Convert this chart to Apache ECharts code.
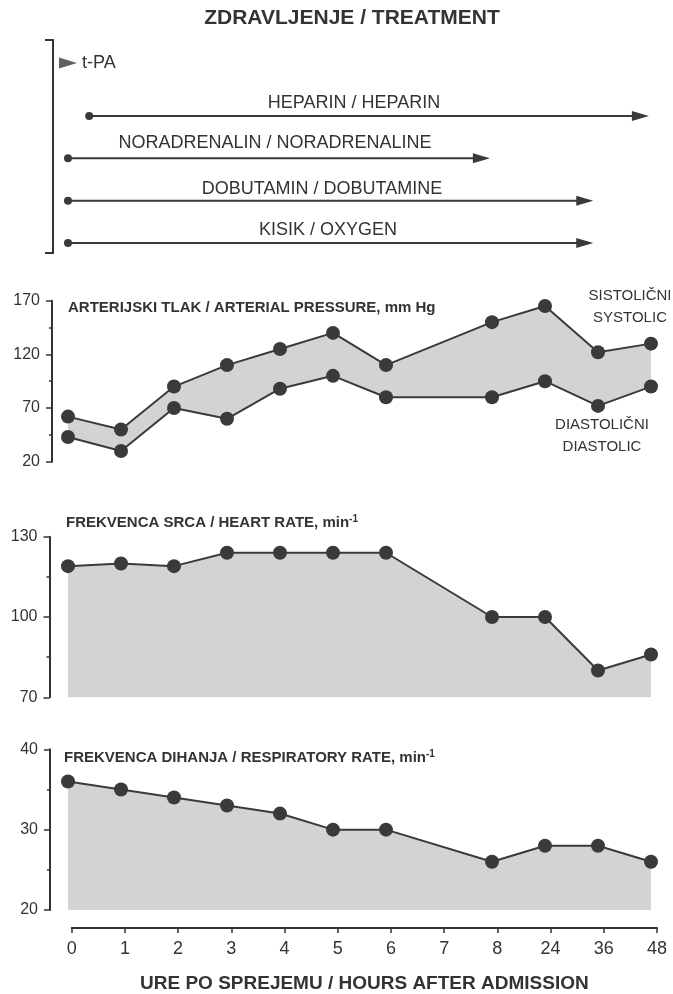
<!DOCTYPE html>
<html>
<head>
<meta charset="utf-8">
<script src="https://cdn.jsdelivr.net/npm/echarts@6/dist/echarts.min.js"></script>
<style>
  html, body { margin: 0; padding: 0; background: #fff; }
  #chart { width: 673px; height: 994px; }
</style>
</head>
<body>
<div id="chart"></div>
<script>
// ---------- DATA ----------
const hours = ['0', '1', '2', '3', '4', '5', '6', '7', '8', '24', '36', '48'];
const systolic  = [62, 50, 90, 110, 125, 140, 110, null, 150, 165, 122, 130];
const diastolic = [43, 30, 70, 60, 88, 100, 80, null, 80, 95, 72, 90];
const heartRate = [119, 120, 119, 124, 124, 124, 124, null, 100, 100, 80, 86];
const respRate  = [36, 35, 34, 33, 32, 30, 30, null, 26, 28, 28, 26];

const bpTicks = [20, 70, 120, 170];
const hrTicks = [70, 100, 130];
const rrTicks = [20, 30, 40];

const bolusDrugs = ['t-PA'];
const bolusTime = [0];               // category index
const infusions = ['HEPARIN / HEPARIN', 'NORADRENALIN / NORADRENALINE', 'DOBUTAMIN / DOBUTAMINE', 'KISIK / OXYGEN'];
const infusionStart = [0.4, 0, 0, 0];       // category index units
const infusionEnd   = [10.8, 7.8, 9.75, 9.75];

// ---------- STYLE ----------
const FONT = "'Liberation Sans', Arial, Helvetica, sans-serif";
const INK = '#333333';
const LINE = '#3a3a3a';
const FILL = '#d3d3d3';
const PL = 68, PR = 22;

const mids = arr => arr.slice(0, -1).map((v, i) => (v + arr[i + 1]) / 2);

function mainY(grid, min, max, ticks, offset) {
  return {
    type: 'value', gridIndex: grid, min: min, max: max, offset: offset, position: 'left',
    axisLine: { show: true, lineStyle: { color: INK, width: 2 } },
    axisTick: { show: true, length: 6, customValues: ticks, lineStyle: { color: INK, width: 1.5 } },
    axisLabel: { show: true, customValues: ticks, fontSize: 16, color: INK, margin: 12, fontFamily: FONT },
    splitLine: { show: false }
  };
}
function minorY(grid, min, max, ticks, offset) {
  return {
    type: 'value', gridIndex: grid, min: min, max: max, offset: offset, position: 'left',
    axisLine: { show: false },
    axisTick: { show: true, length: 3, customValues: mids(ticks), lineStyle: { color: INK, width: 1.5 } },
    axisLabel: { show: false },
    splitLine: { show: false }
  };
}
function hiddenCatX(grid) {
  return { type: 'category', gridIndex: grid, data: hours, boundaryGap: false, show: false };
}
const dotStyle = { color: LINE, borderWidth: 0 };

const series = [];

// t-PA bolus
series.push({
  type: 'scatter', xAxisIndex: 0, yAxisIndex: 0, silent: true,
  data: bolusDrugs.map((d, i) => [bolusTime[i], d]),
  symbol: 'triangle', symbolSize: [11, 18], symbolRotate: -90,
  itemStyle: { color: LINE }
});
// infusions
infusions.forEach((d, i) => {
  series.push({
    type: 'line', xAxisIndex: 1, yAxisIndex: 1, silent: true,
    data: [
      { value: [infusionStart[i], d], symbol: 'circle', symbolSize: 8 },
      { value: [infusionEnd[i], d], symbol: 'triangle', symbolSize: [10, 17], symbolRotate: -90 }
    ],
    showAllSymbol: true,
    lineStyle: { color: LINE, width: 2 },
    itemStyle: dotStyle
  });
});

// Blood pressure band: grey area under systolic, white area under diastolic
series.push({
  type: 'line', xAxisIndex: 2, yAxisIndex: 2, silent: true, z: 2,
  data: systolic, connectNulls: true, symbol: 'circle', symbolSize: 14, showAllSymbol: true,
  areaStyle: { color: FILL, opacity: 1, origin: bpTicks[0] + 5 },
  lineStyle: { color: LINE, width: 2 }, itemStyle: dotStyle
});
series.push({
  type: 'line', xAxisIndex: 2, yAxisIndex: 2, silent: true, z: 3,
  data: diastolic, connectNulls: true, symbol: 'circle', symbolSize: 14, showAllSymbol: true,
  areaStyle: { color: '#ffffff', opacity: 1, origin: 'start' },
  lineStyle: { color: LINE, width: 2 }, itemStyle: dotStyle
});
// Heart rate
series.push({
  type: 'line', xAxisIndex: 3, yAxisIndex: 4, silent: true,
  data: heartRate, connectNulls: true, symbol: 'circle', symbolSize: 14, showAllSymbol: true,
  areaStyle: { color: FILL, opacity: 1, origin: 'start' },
  lineStyle: { color: LINE, width: 2 }, itemStyle: dotStyle
});
// Respiratory rate
series.push({
  type: 'line', xAxisIndex: 4, yAxisIndex: 6, silent: true,
  data: respRate, connectNulls: true, symbol: 'circle', symbolSize: 14, showAllSymbol: true,
  areaStyle: { color: FILL, opacity: 1, origin: 'start' },
  lineStyle: { color: LINE, width: 2 }, itemStyle: dotStyle
});

function txt(x, y, text, size, weight, align, extra) {
  return {
    type: 'text', x: x, y: y, silent: true, z: 10,
    style: Object.assign({
      text: text, fontSize: size, fontWeight: weight || 'normal', fontFamily: FONT,
      fill: INK, align: align || 'center', verticalAlign: 'middle'
    }, extra || {})
  };
}
const supRich = { sup: { fontSize: 10, fontWeight: 'bold', fontFamily: FONT, fill: INK, verticalAlign: 'top' } };

const graphic = [
  txt(352, 18, 'ZDRAVLJENJE / TREATMENT', 21, 'bold'),
  { type: 'polyline', silent: true, shape: { points: [[45, 40], [53, 40], [53, 253], [45, 253]] },
    style: { stroke: INK, lineWidth: 2, fill: null } },
  txt(82, 63, bolusDrugs[0], 18, 'normal', 'left'),
  txt(354, 103, infusions[0], 18),
  txt(275, 143, infusions[1], 18),
  txt(322, 189, infusions[2], 18),
  txt(328, 230, infusions[3], 18),
  txt(68, 308, 'ARTERIJSKI TLAK / ARTERIAL PRESSURE, mm Hg', 15, 'bold', 'left'),
  txt(630, 307, 'SISTOLIČNI\nSYSTOLIC', 15, 'normal', 'center', { lineHeight: 21.5 }),
  txt(602, 436, 'DIASTOLIČNI\nDIASTOLIC', 15, 'normal', 'center', { lineHeight: 21.5 }),
  txt(66, 523, 'FREKVENCA SRCA / HEART RATE, min{sup|-1}', 15, 'bold', 'left', { rich: supRich, lineHeight: 18 }),
  txt(64, 758, 'FREKVENCA DIHANJA / RESPIRATORY RATE, min{sup|-1}', 15, 'bold', 'left', { rich: supRich, lineHeight: 18 })
];

const option = {
  animation: false,
  backgroundColor: '#ffffff',
  textStyle: { fontFamily: FONT },
  grid: [
    { left: PL, right: PR, top: 55, height: 16 },
    { left: PL, right: PR, top: 116, height: 127 },
    { left: PL, right: PR, top: 300.7, height: 161 },
    { left: PL, right: PR, top: 536.7, height: 160.6 },
    { left: PL, right: PR, top: 749.3, height: 160.7 },
    { left: 71.7, right: 16, top: 920, height: 10 }
  ],
  xAxis: [
    { type: 'value', gridIndex: 0, min: 0, max: hours.length - 1, show: false },
    { type: 'value', gridIndex: 1, min: 0, max: hours.length - 1, show: false },
    hiddenCatX(2),
    hiddenCatX(3),
    hiddenCatX(4),
    {
      type: 'category', gridIndex: 5, data: hours, boundaryGap: false, position: 'bottom',
      axisLine: { show: true, lineStyle: { color: INK, width: 2 } },
      axisTick: { show: true, length: 5, lineStyle: { color: INK, width: 1.5 } },
      axisLabel: { show: true, fontSize: 18, color: INK, margin: 12, fontFamily: FONT, interval: 0 },
      name: 'URE PO SPREJEMU / HOURS AFTER ADMISSION', nameLocation: 'middle', nameGap: 46,
      nameTextStyle: { fontSize: 19, fontWeight: 'bold', color: INK, fontFamily: FONT }
    }
  ],
  yAxis: [
    { type: 'category', gridIndex: 0, data: bolusDrugs, show: false },
    { type: 'category', gridIndex: 1, data: infusions, boundaryGap: false, inverse: true, show: false },
    mainY(2, 20, 170, bpTicks, 16),
    minorY(2, 20, 170, bpTicks, 16),
    mainY(3, 70, 130, hrTicks, 18.5),
    minorY(3, 70, 130, hrTicks, 18.5),
    mainY(4, 20, 40, rrTicks, 18),
    minorY(4, 20, 40, rrTicks, 18),
    { type: 'value', gridIndex: 5, show: false }
  ],
  series: series,
  graphic: graphic
};

const chart = echarts.init(document.getElementById('chart'), null, { renderer: 'canvas' });
chart.setOption(option);
</script>
</body>
</html>
